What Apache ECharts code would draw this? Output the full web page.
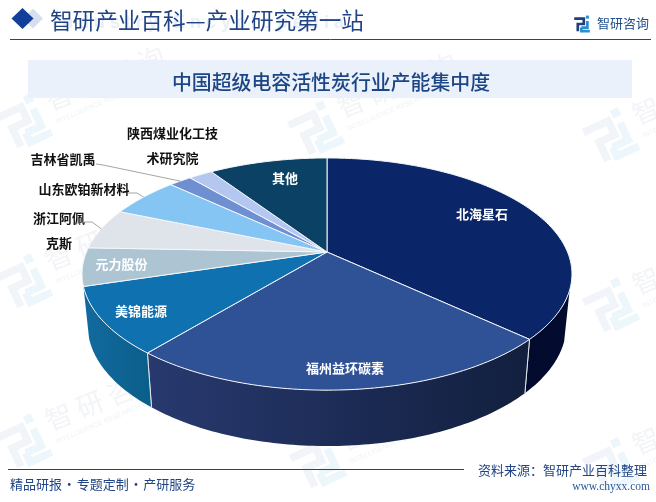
<!DOCTYPE html>
<html><head><meta charset="utf-8">
<style>html,body{margin:0;padding:0;background:#fff}#c{width:656px;height:502px}</style>
<script src="https://cdn.jsdelivr.net/npm/echarts@6/dist/echarts.min.js"></script>
</head><body><div id="c"></div>
<script>
// ---- data ----
const categories = ['北海星石','福州益环碳素','美锦能源','元力股份','浙江阿佩\n\n克斯','山东欧铂新材料','吉林省凯禹','陕西煤业化工技\n\n术研究院','其他'];
const shares = [36.9, 24.1, 9.3, 5.3, 5.7, 5.6, 1.8, 1.9, 9.4];
const pageTitle = '智研产业百科—产业研究第一站';
const chartTitle = '中国超级电容活性炭行业产能集中度';
const brand = '智研咨询';
const footLeft = '精品研报\u200a·\u200a专题定制\u200a·\u200a产研服务';
const footSource = '资料来源：智研产业百科整理';
const footUrl = 'www.chyxx.com';

// ---- styles / layout ----
const topColors = ['#0a2568','#2f5196','#1071b0','#adc5d3','#dee4ea','#85c5f3','#6e8fd2','#b4c7f0','#0a4165'];
const wallColors = [['#020b2e','#030c2e'],['#28396f','#121f3e'],['#126a9f','#0a5e89'],null,null,null,null,null,null];
const labelPos = [[482,214],[345,368],[141,311],[121.5,264],[59,230.5],[84,189],[63,159],[172.5,145.5],[285,178]];
const labelColor = ['#fff','#fff','#fff','#fff','#111','#111','#111','#111','#fff'];
const leaders = {4:[[85,222],[92,222]],5:[[128,193],[137,193]],6:[[96,164],[103,165]]};
const wm = [[23,123],[315,130],[610,137],[23,283],[315,295],[610,307],[23,443],[317,463],[610,467]];

// projected disc of the pie
const G = {cx:327, k:0.19, top:{cy:252,A:240.5,B:111.9}, bot:{cy:302.2,A:235,B:116.5}};
const wallFrom = 108.6, wallTo = 253;
const rad = d => d*Math.PI/180;
function pt(deg, lv){
  const u=Math.sin(rad(deg)), v=Math.cos(rad(deg)), d=1+G.k*v;
  return [G.cx+lv.A*u/d, lv.cy-lv.B*v/d];
}
function arc(a,b,lv){
  const out=[], n=Math.max(2,Math.ceil(Math.abs(b-a)));
  for(let i=0;i<=n;i++) out.push(pt(a+(b-a)*i/n,lv));
  return out;
}
const total = shares.reduce((s,v)=>s+v,0);
const startAngle = []; shares.reduce((s,v,i)=>{startAngle[i]=s;return s+v},0);
const toDeg = v => v/total*360;
const font = (s,w)=>(w||'normal')+' '+s+'px "Noto Sans CJK SC"';
const slice = i => [toDeg(startAngle[i]), toDeg(startAngle[i]+shares[i])];

const chart = echarts.init(document.getElementById('c'), null, {renderer:'canvas'});
const pieData = categories.map((name,i)=>({name, value:shares[i]}));

function renderWall(params){
  const i=params.dataIndex, [a,b]=slice(i), c=wallColors[i];
  if(!c) return {type:'group',children:[]};
  const s=Math.max(a,wallFrom), e=Math.min(b,wallTo);
  const pts=arc(s,e,G.top).concat(arc(e,s,G.bot));
  const kids=[{type:'polygon',shape:{points:pts},style:{fill:new echarts.graphic.LinearGradient(0,0,1,0,[{offset:0,color:c[0]},{offset:1,color:c[1]}])}}];
  [[a,s],[b,e]].forEach(([x,y])=>{ if(x===y){const p=pt(x,G.top),q=pt(x,G.bot);
    kids.push({type:'line',shape:{x1:p[0],y1:p[1],x2:q[0],y2:q[1]},style:{stroke:'#dfe6ee',lineWidth:1}});} });
  return {type:'group',children:kids};
}
function renderTop(params){
  const i=params.dataIndex,[a,b]=slice(i);
  const pts=[[G.cx,G.top.cy]].concat(arc(a,b,G.top));
  const kids=[{type:'polygon',shape:{points:pts},style:{fill:topColors[i],stroke:'#f4f6f9',lineWidth:1,lineJoin:'round'}}];
  return {type:'group',children:kids};
}
function renderLabel(params){
  const i=params.dataIndex,[a,b]=slice(i),kids=[];
  if(leaders[i]){
    const end=pt((a+b)/2,G.top);
    kids.push({type:'polyline',shape:{points:leaders[i].concat([end])},style:{stroke:'#a6a6a6',lineWidth:1,fill:'none'}});
  }
  kids.push({type:'text',x:labelPos[i][0],y:labelPos[i][1],style:{text:categories[i],font:font(13,'bold'),fill:labelColor[i],align:'center',verticalAlign:'middle',lineHeight:12.5}});
  return {type:'group',children:kids};
}

// ---- page furniture ----
function logo(x,y,s,rot,c1,c2,z){
  const stroke=(pts,col,w)=>({type:'polyline',shape:{points:pts.map(p=>[p[0]*s,p[1]*s])},style:{stroke:col,lineWidth:w*s,fill:'none',lineJoin:'miter',lineCap:'butt'}});
  return {type:'group',x,y,rotation:rad(rot),z,silent:true,children:[
    stroke([[-26,-18],[6,-18],[6,0],[-14,0],[-14,24]],c1,9),
    stroke([[18,-10],[18,12],[-2,12]],c2,9),
    stroke([[-2,12],[-2,24],[26,24]],c2,9),
    {type:'rect',shape:{x:13*s,y:-28*s,width:10*s,height:10*s},style:{fill:c2}}
  ]};
}
const wmEls=[];
wm.forEach(([x,y])=>{
  wmEls.push(logo(x,y,0.85,25,'#f1f4f8','#ecf6fb',0));
  wmEls.push({type:'text',x:x+82,y:y-45,rotation:rad(22),z:0,silent:true,style:{text:'智 研 咨 询',font:font(27),fill:'#f2f4f7',align:'center',verticalAlign:'middle'}});
  wmEls.push({type:'text',x:x+33,y:y-1,rotation:rad(23),z:0,silent:true,style:{text:'INTELLIGENCE RESEARCH GROUP',font:'7px "Liberation Sans"',fill:'#eff2f6',align:'left',verticalAlign:'middle'}});
});
const furniture = wmEls.concat([
  {type:'text',x:52,y:23,z:1,silent:true,style:{text:'I n d u s t r y   E n c y c l o p e d i a',font:'bold 18px "Liberation Sans"',fill:'#e8eff7',align:'left',verticalAlign:'middle'}},
  {type:'polygon',z:1,silent:true,shape:{points:[[33,8.5],[43,18.5],[33,28.5],[23,18.5]]},style:{fill:'#d6def0'}},
  {type:'polygon',z:1,silent:true,shape:{points:[[22.5,8],[33.5,18.5],[22.5,29],[11.5,18.5]]},style:{fill:'#123f98'}},
  {type:'text',x:50,y:20,z:2,silent:true,style:{text:pageTitle,font:font(22.6),fill:'#1f4384',align:'left',verticalAlign:'middle'}},
  logo(582,24,0.3,0,'#1f3f7f','#2a8fd0',2),
  {type:'text',x:597,y:23,z:2,silent:true,style:{text:brand,font:font(13),fill:'#1f4f8f',align:'left',verticalAlign:'middle'}},
  {type:'line',z:1,silent:true,shape:{x1:10,y1:39.5,x2:651,y2:39.5},style:{stroke:'#1f4488',lineWidth:1}},
  {type:'rect',z:1,silent:true,shape:{x:28,y:60,width:604,height:38},style:{fill:'#eaf1fb'}},
  {type:'text',x:331,y:82,z:2,silent:true,style:{text:chartTitle,font:font(19.9,'500'),fill:'#1c4585',align:'center',verticalAlign:'middle'}},
  {type:'line',z:1,silent:true,shape:{x1:8,y1:469.5,x2:464,y2:469.5},style:{stroke:'#1f4488',lineWidth:1}},
  {type:'text',x:10,y:484,z:2,silent:true,style:{text:footLeft,font:font(13),fill:'#1f4384',align:'left',verticalAlign:'middle'}},
  {type:'text',x:478,y:470,z:2,silent:true,style:{text:footSource,font:font(13),fill:'#1f4384',align:'left',verticalAlign:'middle'}},
  {type:'text',x:650,y:487,z:2,silent:true,style:{text:footUrl,font:'11.5px "Liberation Serif"',fill:'#2b5a9a',align:'right',verticalAlign:'middle'}}
]);

chart.setOption({
  animation:false,
  graphic:{elements:furniture},
  series:[
    {type:'custom',name:'walls',coordinateSystem:'none',z:3,silent:true,data:pieData,renderItem:renderWall},
    {type:'custom',name:'tops',coordinateSystem:'none',z:4,silent:true,data:pieData,renderItem:renderTop},
    {type:'custom',name:'labels',coordinateSystem:'none',z:5,silent:true,data:pieData,renderItem:renderLabel}
  ]
});
</script></body></html>
